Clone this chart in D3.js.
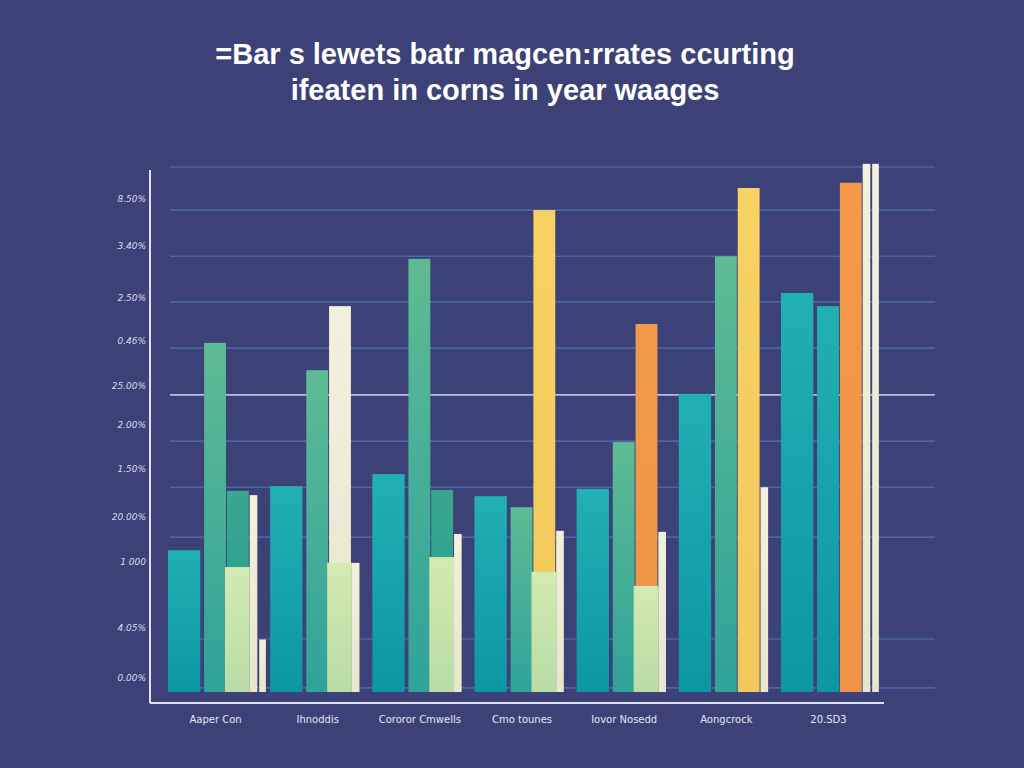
<!DOCTYPE html>
<html><head><meta charset="utf-8">
<script src="https://cdn.jsdelivr.net/npm/d3@7"></script>
<style>html,body{margin:0;padding:0;background:#3c4277;}svg{display:block}</style>
</head><body>
<svg id="c" width="1024" height="768"></svg>
<script>
// ---- data ----
const titleLines = ["=Bar s lewets batr magcen:rrates ccurting", "ifeaten in corns in year waages"];
const categories = ["Aaper Con", "Ihnoddis", "Cororor Cmwells", "Cmo tounes", "Iovor Nosedd", "Aongcrock", "20.SD3"];
const tealValues   = [27.0, 39.2, 41.5, 37.3, 38.7, 56.8, 76.0];
const greenValues  = [66.5, 61.3, 82.5, 35.2, 47.6, 83.0, 73.5];
const accentValues = [38.3, 73.5, 38.5, 91.8, 70.1, 96.0, 97.0];
const accentKinds  = ["dark", "cream", "dark", "yellow", "orange", "yellow", "orange"];
const paleValues   = [23.8, 24.6, 25.7, 22.9, 20.2, null, null];
const creamValues  = [37.5, 24.6, 30.1, 30.7, 30.5, 39.0, 100.6];
const cream2Values = [10.0, null, null, null, null, null, 100.6];
const yTickValues  = [2.7, 12.2, 24.8, 33.5, 42.5, 50.9, 58.3, 66.9, 75.2, 85.0, 93.9];
const yTickLabels  = ["0.00%", "4.05%", "1 000", "20.00%", "1.50%", "2.00%", "25.00%", "0.46%", "2.50%", "3.40%", "8.50%"];
const gridValues   = [0.8, 10.1, 29.5, 39.0, 47.8, 56.6, 65.5, 74.3, 83.0, 91.8, 100];

// ---- layout ----
const svg = d3.select("#c");
const W = 1024, H = 768;
const m = {left: 150, right: 89, top: 167, bottom: 76};
const y = d3.scaleLinear().domain([0, 100]).range([H - m.bottom, m.top]);
const x = d3.scaleBand().domain(categories).range([168, 876]).paddingInner(0.07).paddingOuter(0);
const sub = d3.scaleLinear().domain([0, 100]).range([0, x.bandwidth()]);

svg.append("rect").attr("width", W).attr("height", H).attr("fill", "#3c4277");

const defs = svg.append("defs");
function grad(id, top, bot) {
  const g = defs.append("linearGradient").attr("id", id).attr("x1", 0).attr("y1", 0).attr("x2", 0).attr("y2", 1);
  g.append("stop").attr("offset", "0%").attr("stop-color", top);
  g.append("stop").attr("offset", "100%").attr("stop-color", bot);
}
grad("gTeal", "#21b0b4", "#0d96a4");
grad("gGreen", "#5fbb94", "#2fa39a");
grad("gDark", "#3aa88f", "#239a98");
grad("gYellow", "#f8d264", "#f2c85a");
grad("gOrange", "#f29a4a", "#ef9446");
grad("gPale", "#d4eab2", "#b9dca6");
grad("gCream", "#f3f0dc", "#e9e6cf");
const accentFill = {dark: "url(#gDark)", cream: "url(#gCream)", yellow: "url(#gYellow)", orange: "url(#gOrange)"};

// gridlines
svg.append("g").selectAll("line").data(gridValues).join("line")
  .attr("x1", m.left + 20).attr("x2", 935)
  .attr("y1", d => y(d)).attr("y2", d => y(d))
  .attr("stroke", (d, i) => i === 5 ? "#b8bce0" : "#4f74b8")
  .attr("stroke-width", (d, i) => i === 5 ? 1.6 : 1.2);

// title
svg.append("g").selectAll("text").data(titleLines).join("text")
  .attr("x", 505).attr("y", (d, i) => 64 + i * 36)
  .attr("text-anchor", "middle")
  .attr("fill", "#ffffff")
  .attr("font-family", "Liberation Sans, Arial, sans-serif")
  .attr("font-size", 29).attr("font-weight", "bold")
  .text(d => d);

// bars
const bars = svg.append("g");
function drawSeries(vals, x0, x1, fill) {
  bars.append("g").selectAll("rect").data(categories.map((c, i) => ({c, v: vals[i], i})).filter(d => d.v != null)).join("rect")
    .attr("x", d => x(d.c) + sub(x0))
    .attr("width", sub(x1) - sub(x0))
    .attr("y", d => y(d.v))
    .attr("height", d => y(0) - y(d.v))
    .attr("fill", typeof fill === "function" ? d => fill(d) : fill);
}
drawSeries(tealValues, 0, 34, "url(#gTeal)");
drawSeries(greenValues, 38, 61, (d) => d.i === 6 ? "url(#gTeal)" : "url(#gGreen)");
drawSeries(accentValues, 62, 85, d => accentFill[accentKinds[d.i]]);
drawSeries(paleValues, 60, 86, "url(#gPale)");
drawSeries(creamValues, 86, 94, "url(#gCream)");
drawSeries(cream2Values, 96, 103, "url(#gCream)");

// axes
const yAxis = d3.axisLeft(y).tickValues(yTickValues).tickFormat((d, i) => yTickLabels[i]).tickSize(0).tickPadding(4);
const ya = svg.append("g").attr("transform", `translate(${m.left},0)`).call(yAxis);
ya.select(".domain").remove();
ya.selectAll("text").attr("fill", "#d8dcf0").attr("font-family", "DejaVu Sans, sans-serif").attr("font-size", 9).attr("font-style", "italic");
svg.append("line").attr("x1", m.left).attr("x2", m.left).attr("y1", 170).attr("y2", 703)
  .attr("stroke", "#e0e2f2").attr("stroke-width", 2);

const xAxis = d3.axisBottom(x).tickSize(0).tickPadding(14);
const xa = svg.append("g").attr("transform", `translate(0,${H - m.bottom + 10})`).call(xAxis);
xa.select(".domain").remove();
xa.selectAll("text").attr("fill", "#e4e6f4").attr("font-family", "DejaVu Sans, sans-serif").attr("font-size", 10);
svg.append("line").attr("x1", m.left).attr("x2", 884).attr("y1", 703).attr("y2", 703)
  .attr("stroke", "#e0e2f2").attr("stroke-width", 2);
</script>
</body></html>
